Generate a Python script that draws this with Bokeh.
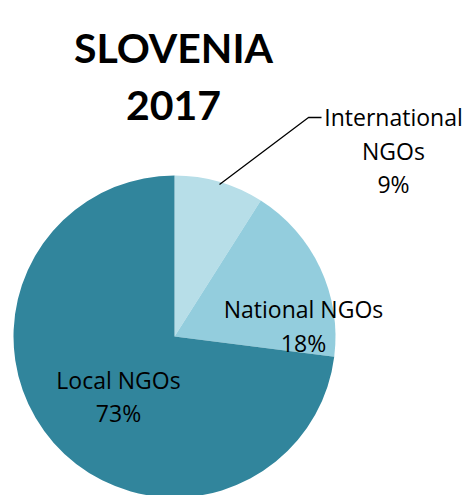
import math
from bokeh.plotting import figure
from bokeh.models import Range1d, ColumnDataSource
from bokeh.core.properties import value
from bokeh.embed import file_html
from bokeh.resources import INLINE

title_lines = ["SLOVENIA", "2017"]
categories = ["International NGOs", "National NGOs", "Local NGOs"]
shares = [9, 18, 73]
colors = ["#B7DEE8", "#93CDDD", "#31859C"]

W, H = 466, 495
p = figure(width=W, height=H, output_backend="svg", toolbar_location=None,
           x_range=Range1d(0, W), y_range=Range1d(0, H), min_border=0)
p.axis.visible = False
p.grid.visible = False
p.outline_line_color = None
p.background_fill_color = "white"
p.border_fill_color = "white"

cx, cy, r = 174, H - 336, 161
total = sum(shares)
starts, ends = [], []
acc = 0.0
for v in shares:
    a0 = math.pi / 2 - 2 * math.pi * acc / total
    acc += v
    a1 = math.pi / 2 - 2 * math.pi * acc / total
    starts.append(a0)
    ends.append(a1)

src = ColumnDataSource(dict(start=starts, end=ends, color=colors))
p.wedge(x=cx, y=cy, radius=r, start_angle="start", end_angle="end",
        direction="clock", fill_color="color", line_color=None, source=src)

# leader line for International NGOs
p.line(x=[219, 308, 321], y=[H - 184, H - 117, H - 117], line_color="black", line_width=1.3)

# title
p.text(x=[173, 173], y=[H - 47, H - 105], text=title_lines, text_font=value("Lato"),
       text_font_style="bold", text_font_size="41px", text_align="center",
       text_baseline="alphabetic", text_color="black")

# labels
lab_x = [393, 303, 118]
lab_lines = [
    ["International", "NGOs", f"{shares[0]}%"],
    ["National NGOs", f"{shares[1]}%"],
    ["Local NGOs", f"{shares[2]}%"],
]
lab_base = [[116, 150, 183], [308, 342], [379, 412]]
xs, ys, ts = [], [], []
for x0, lines, bases in zip(lab_x, lab_lines, lab_base):
    for t, b in zip(lines, bases):
        xs.append(x0)
        ys.append(H - b)
        ts.append(t)
p.text(x=xs, y=ys, text=ts, text_font=value("Open Sans"), text_font_size="23px",
       text_align="center", text_baseline="alphabetic", text_color="black")

open("out.html", "w").write(file_html(p, INLINE))
